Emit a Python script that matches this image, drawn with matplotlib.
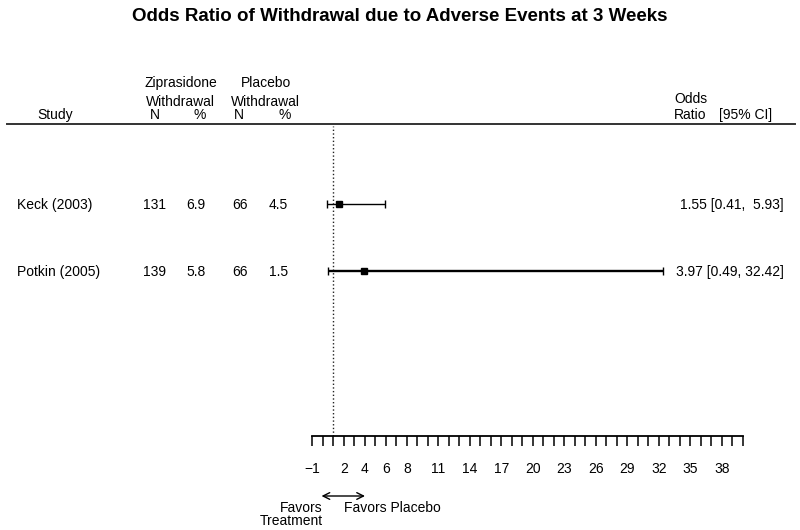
import numpy as np
import matplotlib
matplotlib.use('Agg')
import matplotlib.pyplot as plt
from matplotlib import transforms
from matplotlib.lines import Line2D

plt.rcParams['font.family'] = ['Liberation Sans', 'DejaVu Sans']

# data
studies = ['Keck (2003)', 'Potkin (2005)']
zip_n = [131, 139]
zip_pct = [6.9, 5.8]
pbo_n = [66, 66]
pbo_pct = [4.5, 1.5]
odds_ratio = [1.55, 3.97]
ci_low = [0.41, 0.49]
ci_high = [5.93, 32.42]
line_w = [1.0, 1.7]

tick_vals = np.arange(-1, 41)
label_vals = [-1, 2, 4, 6, 8, 11, 14, 17, 20, 23, 26, 29, 32, 35, 38]

W, H = 800, 530
fig = plt.figure(figsize=(8, 5.3), dpi=100)


def fx(px):
    return px / W


def fy(py):
    return 1 - py / H


ax = fig.add_axes([fx(312.3), fy(436), fx(742.7) - fx(312.3), fy(126) - fy(436)])
ax.set_xlim(-1, 40)
ax.set_ylim(4.463, -0.164)
for s in ['top', 'left', 'right']:
    ax.spines[s].set_visible(False)
ax.spines['bottom'].set_linewidth(1.3)
ax.set_yticks([])
ax.set_xticks(tick_vals)
ax.set_xticklabels([str(v).replace('-', '\u2212') if v in label_vals else '' for v in tick_vals])
ax.tick_params(axis='x', length=7.5, width=1.1, direction='out', pad=11, labelsize=10)

ax.axvline(1, ls=':', lw=1, color='#222222')

rows = np.arange(1, len(studies) + 1)
for i, y in enumerate(rows):
    o, lo, hi = odds_ratio[i], ci_low[i], ci_high[i]
    ax.errorbar([o], [y], xerr=[[o - lo], [hi - o]], fmt='s', color='black',
                ms=4.5, capsize=3, elinewidth=line_w[i], capthick=1)

# text columns aligned to the rows
row_tr = transforms.blended_transform_factory(fig.transFigure, ax.transData)
row_tr = transforms.offset_copy(row_tr, fig=fig, y=-5, units='dots')
fs = 10
for i, y in enumerate(rows):
    ax.text(fx(17), y, studies[i], transform=row_tr, ha='left', va='baseline', fontsize=fs)
    ax.text(fx(154.5), y, str(zip_n[i]), transform=row_tr, ha='center', va='baseline', fontsize=fs)
    ax.text(fx(196), y, '%.1f' % zip_pct[i], transform=row_tr, ha='center', va='baseline', fontsize=fs)
    ax.text(fx(240), y, str(pbo_n[i]), transform=row_tr, ha='center', va='baseline', fontsize=fs)
    ax.text(fx(278.5), y, '%.1f' % pbo_pct[i], transform=row_tr, ha='center', va='baseline', fontsize=fs)
    ax.text(fx(784), y, '%.2f [%.2f, %5.2f]' % (odds_ratio[i], ci_low[i], ci_high[i]),
            transform=row_tr, ha='right', va='baseline', fontsize=fs)

# header
fig.text(0.5, fy(20.7), 'Odds Ratio of Withdrawal due to Adverse Events at 3 Weeks',
         ha='center', va='baseline', fontsize=13.5, fontweight='bold')
fig.text(fx(180.5), fy(86.7), 'Ziprasidone', ha='center', va='baseline', fontsize=fs)
fig.text(fx(265.5), fy(86.7), 'Placebo', ha='center', va='baseline', fontsize=fs)
fig.text(fx(180.5), fy(105.8), 'Withdrawal', ha='center', va='baseline', fontsize=fs)
fig.text(fx(265.8), fy(105.8), 'Withdrawal', ha='center', va='baseline', fontsize=fs)
fig.text(fx(55), fy(118.5), 'Study', ha='center', va='baseline', fontsize=fs)
for xp, s in [(155, 'N'), (199.3, '%'), (239.3, 'N'), (284.3, '%')]:
    fig.text(fx(xp), fy(118.8), s, ha='center', va='baseline', fontsize=fs)
fig.text(fx(674.3), fy(103.3), 'Odds', ha='left', va='baseline', fontsize=fs)
fig.text(fx(674.3), fy(119), 'Ratio', ha='left', va='baseline', fontsize=fs)
fig.text(fx(719.3), fy(119), '[95% CI]', ha='left', va='baseline', fontsize=fs)
fig.add_artist(Line2D([fx(7), fx(795)], [fy(123.5)] * 2, transform=fig.transFigure,
                      color='#333333', lw=1.4))

# favours arrow
ax.annotate('', xy=(fx(365), fy(496)), xytext=(fx(321.5), fy(496)),
            xycoords='figure fraction', textcoords='figure fraction',
            arrowprops=dict(arrowstyle='<->', lw=1, color='black', mutation_scale=12,
                            shrinkA=0, shrinkB=0))
fig.text(fx(322.5), fy(512.3), 'Favors', ha='right', va='baseline', fontsize=fs)
fig.text(fx(322.5), fy(525.2), 'Treatment', ha='right', va='baseline', fontsize=fs)
fig.text(fx(344), fy(512.3), 'Favors Placebo', ha='left', va='baseline', fontsize=fs)

fig.savefig('out.png', dpi=100)
